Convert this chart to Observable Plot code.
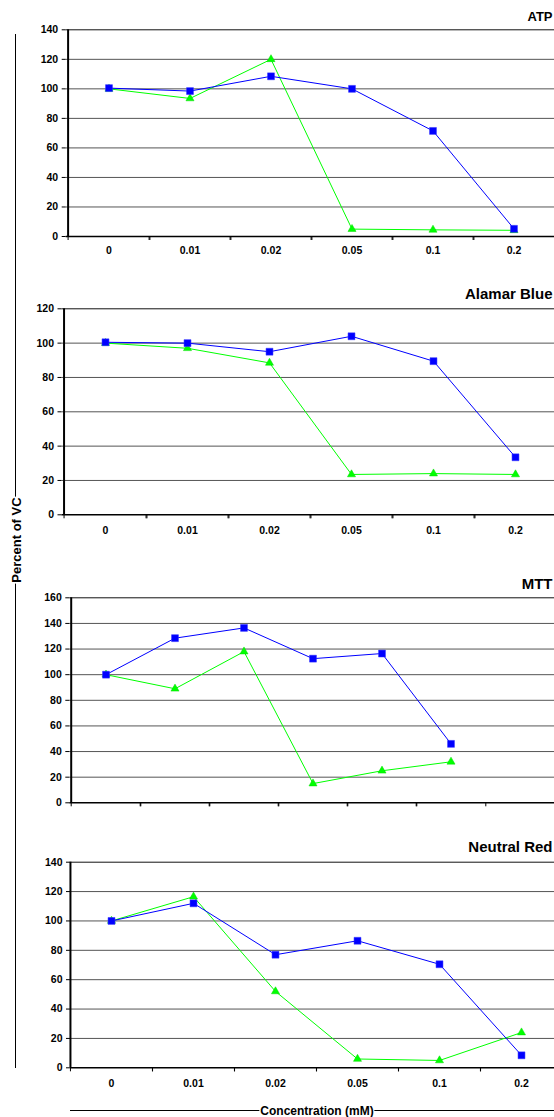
<!DOCTYPE html>
<html>
<head>
<meta charset="utf-8">
<script src="https://cdn.jsdelivr.net/npm/d3@7"></script>
<script src="https://cdn.jsdelivr.net/npm/@observablehq/plot@0.6"></script>
<style>
  html, body { margin: 0; padding: 0; background: white; overflow: hidden; }
  #root { position: relative; width: 554px; height: 1117px; overflow: hidden; background: white;
          font-family: 'Liberation Sans', Arial, sans-serif; font-weight: bold; color: black; }
  #root svg { position: absolute; left: 0; }
  .ylab-line { position: absolute; left: 15px; top: 34px; width: 1px; height: 1034px; background: black; }
  .ylab { position: absolute; left: 15.5px; top: 540px; transform: translate(-50%, -50%) rotate(-90deg);
          font-size: 13px; background: white; padding: 0 1px; white-space: nowrap; line-height: 13px; }
  .xlab-line { position: absolute; left: 70px; top: 1110px; width: 484px; height: 1px; background: black; }
  .xlab { position: absolute; left: 317px; top: 1110.5px; transform: translate(-50%, -50%);
          font-size: 12px; background: white; padding: 0 1px; white-space: nowrap; line-height: 12px; }
</style>
</head>
<body>
<div id="root"></div>
<script>
// Categories (x axis)
const concentrations = ["0", "0.01", "0.02", "0.05", "0.1", "0.2"];

// Series values (percent of vehicle control)
const atpBlue     = [100.5, 98.5, 108.5, 100, 71.5, 5.2];
const atpGreen    = [100, 93.5, 120, 5, 4.5, 4.2];
const alamarBlue  = [100.5, 100, 95, 104, 89.5, 33.5];
const alamarGreen = [100, 97, 88.5, 23.5, 24, 23.5];
const mttBlue     = [100, 128.5, 136.5, 112.5, 116.5, 46];
const mttGreen    = [100, 89, 118, 15, 25, 32];
const nrBlue      = [100, 112, 77, 86.5, 70.5, 8.5];
const nrGreen     = [100, 116.5, 52, 6, 5, 24];

// Tick values
const yTicks140 = [0, 20, 40, 60, 80, 100, 120, 140];
const yTicks120 = [0, 20, 40, 60, 80, 100, 120];
const yTicks160 = [0, 20, 40, 60, 80, 100, 120, 140, 160];

// Panel titles
const titles = ["ATP", "Alamar Blue", "MTT", "Neutral Red"];

// Layout of each panel (pixels)
const panels = [
  {title: titles[0], blue: atpBlue, green: atpGreen, ticks: yTicks140,
   top: 0, height: 270, frameTop: 29.3, frameBottom: 236, left: 65.7, step: 81.8,
   labels: true, labelPad: 10.5, tx: 552, ty: 16, tfs: 13},
  {title: titles[1], blue: alamarBlue, green: alamarGreen, ticks: yTicks120,
   top: 270, height: 286, frameTop: 308.3, frameBottom: 514.3, left: 61.5, step: 82.9,
   labels: true, labelPad: 11.5, tx: 552, ty: 294, tfs: 15},
  {title: titles[2], blue: mttBlue, green: mttGreen, ticks: yTicks160,
   top: 556, height: 270, frameTop: 597.3, frameBottom: 802.3, left: 69.3, step: 69.6,
   labels: false, labelPad: 0, tx: 552, ty: 584, tfs: 15},
  {title: titles[3], blue: nrBlue, green: nrGreen, ticks: yTicks140,
   top: 826, height: 291, frameTop: 861.7, frameBottom: 1067.3, left: 70, step: 82.1,
   labels: true, labelPad: 11.5, tx: 552, ty: 847, tfs: 15}
];

const W = 554;
const root = document.getElementById("root");

for (const p of panels) {
  const blueData = concentrations.map((c, i) => ({c, v: p.blue[i]}));
  const greenData = concentrations.map((c, i) => ({c, v: p.green[i]}));
  const yMax = p.ticks[p.ticks.length - 1];
  const mt = p.frameTop - p.top;
  const mb = p.top + p.height - p.frameBottom;
  const frameH = p.frameBottom - p.frameTop;
  const bw = p.step;

  const marks = [
    Plot.ruleY(p.ticks.filter(t => t > 0 && t < yMax), {stroke: "#555555", strokeWidth: 1}),
    Plot.ruleY([yMax], {stroke: "#111111", strokeWidth: 1}),
    // category boundary ticks
    Plot.ruleX(concentrations, {x: d => d, dx: -bw / 2, insetTop: frameH, insetBottom: -4, stroke: "black"}),
    Plot.ruleX(concentrations, {x: d => d, dx: bw / 2, insetTop: frameH, insetBottom: -4, stroke: "black"}),
    Plot.ruleY([0], {stroke: "black", strokeWidth: 1.5}),
    Plot.ruleX([concentrations[0]], {x: d => d, dx: -bw / 2, stroke: "black", strokeWidth: 2}),
    Plot.axisY({ticks: p.ticks, tickSize: 4, tickPadding: 4, label: null, tickFormat: d => String(d),
                fontWeight: "bold", fontSize: 10.5}),
    Plot.line(greenData, {x: "c", y: "v", stroke: "#00ff00", strokeWidth: 1}),
    Plot.dot(greenData, {x: "c", y: "v", symbol: "triangle", r: 3, fill: "#00ff00", stroke: "#00dd00", strokeWidth: 0.5}),
    Plot.line(blueData, {x: "c", y: "v", stroke: "#0000ff", strokeWidth: 1}),
    Plot.dot(blueData, {x: "c", y: "v", symbol: "square", r: 3.9, fill: "#0000ff", stroke: "#3333ff", strokeWidth: 0.5}),
    Plot.text([p.title], {frameAnchor: "top-left", dx: p.tx - p.left, dy: p.ty - p.frameTop,
                          textAnchor: "end", lineAnchor: "middle", fontSize: p.tfs, fontWeight: "bold", fill: "black"})
  ];
  if (p.labels) {
    marks.push(Plot.axisX({tickSize: 0, tickPadding: p.labelPad, label: null, fontWeight: "bold", fontSize: 10.5}));
  }

  const svg = Plot.plot({
    width: W,
    height: p.height,
    marginLeft: p.left,
    marginRight: 0,
    marginTop: mt,
    marginBottom: mb,
    x: {type: "band", domain: concentrations, range: [p.left, p.left + 6 * bw], padding: 0, axis: p.labels ? undefined : null},
    y: {domain: [0, yMax]},
    style: {fontFamily: "'Liberation Sans', Arial, sans-serif", fontSize: "10.5px", fontWeight: "bold",
            color: "black", background: "transparent", overflow: "hidden"},
    marks
  });
  svg.style.top = p.top + "px";
  root.appendChild(svg);
}

// Shared axis titles
const yl = document.createElement("div"); yl.className = "ylab-line"; root.appendChild(yl);
const yt = document.createElement("div"); yt.className = "ylab"; yt.textContent = "Percent of VC"; root.appendChild(yt);
const xl = document.createElement("div"); xl.className = "xlab-line"; root.appendChild(xl);
const xt = document.createElement("div"); xt.className = "xlab"; xt.textContent = "Concentration (mM)"; root.appendChild(xt);
</script>
</body>
</html>
